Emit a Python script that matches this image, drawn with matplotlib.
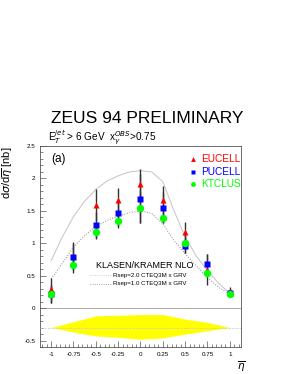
import matplotlib
matplotlib.use("Agg")
import matplotlib.pyplot as plt
from matplotlib.ticker import MultipleLocator, FormatStrFormatter

# measured points
eta = [-1, -0.75, -0.5, -0.25, 0, 0.25, 0.5, 0.75, 1]
eucell = [0.30, 0.81, 1.59, 1.66, 1.91, 1.67, 1.17, 0.59, 0.27]
eucell_err = [0.16, 0.21, 0.24, 0.19, 0.23, 0.22, 0.16, 0.24, 0.06]
pucell = [0.21, 0.79, 1.28, 1.47, 1.69, 1.55, 0.96, 0.68, 0.23]
pucell_err = [0.13, 0.20, 0.20, 0.20, 0.38, 0.24, 0.11, 0.15, 0.06]
ktclus = [0.22, 0.66, 1.17, 1.35, 1.55, 1.39, 1.01, 0.54, 0.21]
ktclus_err = [0.14, 0.12, 0.10, 0.12, 0.24, 0.08, 0.16, 0.05, 0.04]

# NLO curves
eta_th = [-1, -0.875, -0.75, -0.625, -0.5, -0.375, -0.25, -0.125, 0,
          0.125, 0.25, 0.375, 0.5, 0.625, 0.75, 0.875, 1]
rsep2 = [0.73, 1.10, 1.41, 1.65, 1.83, 1.96, 2.04, 2.10, 2.12,
         2.10, 1.95, 1.50, 1.10, 0.80, 0.58, 0.38, 0.23]
rsep1 = [0.45, 0.69, 0.94, 1.12, 1.26, 1.35, 1.42, 1.47, 1.50,
         1.46, 1.30, 1.04, 0.84, 0.65, 0.47, 0.32, 0.21]

# energy scale band (drawn around -0.3)
band_top = [-0.30, -0.21, -0.12, -0.11, -0.10, -0.10, -0.17, -0.22, -0.30]
band_bot = [-0.30, -0.37, -0.43, -0.45, -0.48, -0.46, -0.40, -0.35, -0.30]

plt.rcParams['font.family'] = ['Liberation Sans', 'DejaVu Sans']
fig = plt.figure(figsize=(2.89, 3.74), dpi=100)
ax = fig.add_axes([0.1384, 0.0722, 0.6955, 0.5374])

ax.axhline(0, color='#aaaaaa', lw=0.7, zorder=1)
ax.axhline(-0.3, color='#cccccc', lw=0.5, ls='--', zorder=3)
ax.fill_between(eta, band_bot, band_top, color='#ffff00', lw=0, zorder=2)

ax.plot(eta_th, rsep2, color='#c4c4c4', lw=0.7, zorder=3)
ax.plot(eta_th, rsep1, color='#888888', lw=0.7, ls=':', zorder=3)

for y, e in [(eucell, eucell_err), (pucell, pucell_err), (ktclus, ktclus_err)]:
    ax.errorbar(eta, y, yerr=e, fmt='none', ecolor='#333333', elinewidth=1.0, capsize=0, zorder=4)

ax.plot(eta, eucell, '^', color='#ff0000', ms=4.5, mec='none', zorder=5)
ax.plot(eta, pucell, 's', color='#0000ff', ms=5, mec='none', zorder=6)
ax.plot(eta, ktclus, 'o', color='#00ff00', ms=5.3, mec='none', zorder=7)

ax.set_xlim(-1.125, 1.125)
ax.set_ylim(-0.6, 2.5)
ax.xaxis.set_major_locator(MultipleLocator(0.25))
ax.xaxis.set_minor_locator(MultipleLocator(0.05))
ax.yaxis.set_major_locator(MultipleLocator(0.5))
ax.yaxis.set_minor_locator(MultipleLocator(0.1))
ax.xaxis.set_major_formatter(FormatStrFormatter('%g'))
ax.yaxis.set_major_formatter(FormatStrFormatter('%g'))
ax.tick_params(which='both', direction='in', labelsize=4.5, color='#555555', width=0.5,
               top=False, right=False)
ax.tick_params(which='major', length=4)
ax.tick_params(which='minor', length=2)
for s in ax.spines.values():
    s.set_linewidth(0.6)
    s.set_color('#555555')

ax.set_ylabel(r'd$\sigma$/d$\overline{\eta}$ [nb]', fontsize=8, loc='top', labelpad=7)
ax.text(1.0, -0.06, r'$\overline{\eta}$', transform=ax.transAxes, fontsize=7.5, ha='center', va='top')

fig.text(0.508, 0.682, 'ZEUS 94 PRELIMINARY', fontsize=12.5, ha='center', va='center')
fig.text(0.166, 0.632, r'E$_T^{jet}$ > 6 GeV  x$_\gamma^{OBS}$>0.75', fontsize=7.2, ha='left', va='center')
ax.text(-1.0, 2.3, '(a)', fontsize=8.5, ha='left', va='center')

# legend for data
leg = [('EUCELL', '^', '#ff0000', 159), ('PUCELL', 's', '#0000ff', 172), ('KTCLUS', 'o', '#00ff00', 184)]
for name, m, c, py in leg:
    fy = 1 - py / 374
    fig.add_artist(plt.Line2D([193 / 289], [fy], marker=m, color=c, ms=3.5, mec='none', transform=fig.transFigure))
    fig.text(201 / 289, fy, name, color=c, fontsize=7.3, ha='left', va='center')

# theory legend
fig.text(96 / 289, 1 - 266 / 374, 'KLASEN/KRAMER NLO', fontsize=6.5, ha='left', va='center')
fig.add_artist(plt.Line2D([90 / 289, 112 / 289], [1 - 275 / 374] * 2, color='#c4c4c4', lw=0.6, ls=':', transform=fig.transFigure))
fig.add_artist(plt.Line2D([90 / 289, 112 / 289], [1 - 284 / 374] * 2, color='#888888', lw=0.6, ls=':', transform=fig.transFigure))
fig.text(113 / 289, 1 - 275 / 374, 'Rsep=2.0 CTEQ3M x GRV', fontsize=4.4, ha='left', va='center')
fig.text(113 / 289, 1 - 284 / 374, 'Rsep=1.0 CTEQ3M x GRV', fontsize=4.4, ha='left', va='center')

fig.savefig('out.png', dpi=100)
